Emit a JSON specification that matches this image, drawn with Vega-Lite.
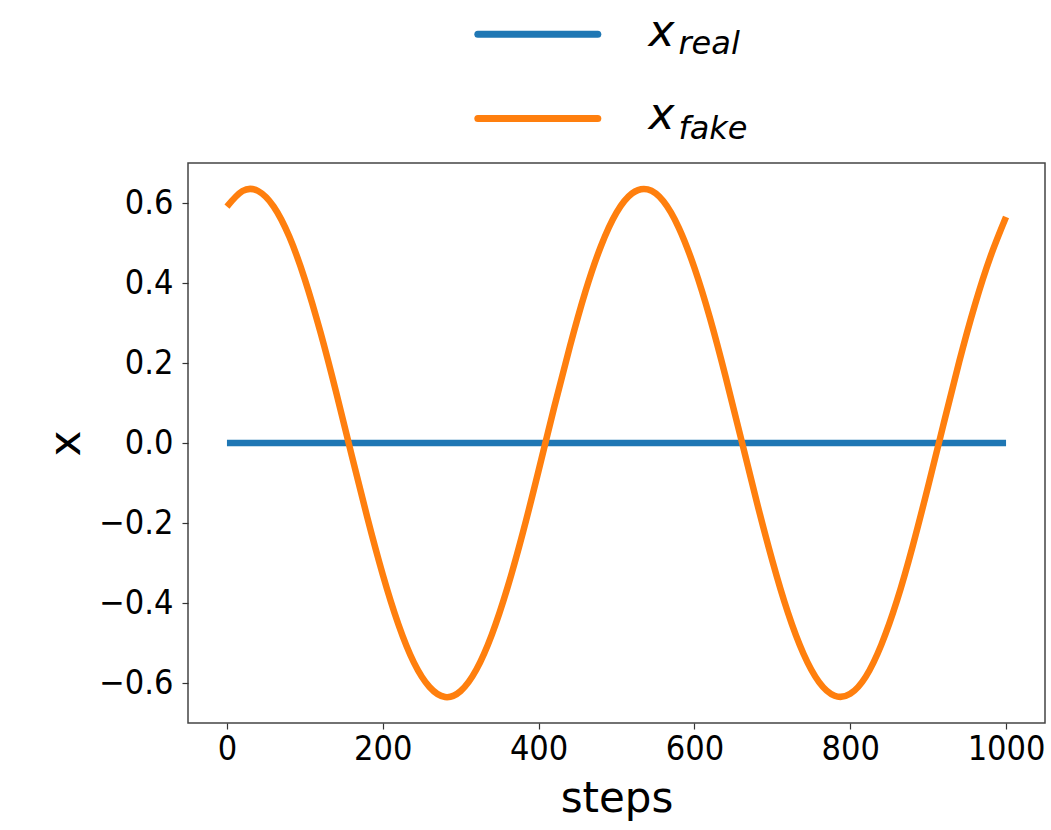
{
  "$schema": "https://vega.github.io/schema/vega-lite/v6.json",
  "width": 857,
  "height": 560,
  "autosize": "none",
  "padding": {"left": 188, "top": 163, "right": 6, "bottom": 107},
  "background": "white",
  "config": {
    "view": {"stroke": "#444444", "strokeWidth": 1.5},
    "axis": {
      "labelFont": "DejaVu Sans Condensed, Liberation Sans",
      "titleFont": "DejaVu Sans",
      "labelColor": "black",
      "titleColor": "black",
      "titleFontWeight": "normal",
      "grid": false,
      "domain": false,
      "tickColor": "#333333",
      "tickWidth": 1.2,
      "tickSize": 6
    }
  },
  "datasets": {
    "series": [
      {"step": 0, "value": 0.0, "series": "x_real"},
      {"step": 1000, "value": 0.0, "series": "x_real"},
      {"step": 0, "value": 0.591, "series": "x_fake"},
      {"step": 20, "value": 0.630, "series": "x_fake"},
      {"step": 40, "value": 0.630, "series": "x_fake"},
      {"step": 60, "value": 0.591, "series": "x_fake"},
      {"step": 80, "value": 0.516, "series": "x_fake"},
      {"step": 100, "value": 0.409, "series": "x_fake"},
      {"step": 120, "value": 0.277, "series": "x_fake"},
      {"step": 140, "value": 0.128, "series": "x_fake"},
      {"step": 160, "value": -0.030, "series": "x_fake"},
      {"step": 180, "value": -0.185, "series": "x_fake"},
      {"step": 200, "value": -0.329, "series": "x_fake"},
      {"step": 220, "value": -0.453, "series": "x_fake"},
      {"step": 240, "value": -0.549, "series": "x_fake"},
      {"step": 260, "value": -0.610, "series": "x_fake"},
      {"step": 280, "value": -0.635, "series": "x_fake"},
      {"step": 300, "value": -0.620, "series": "x_fake"},
      {"step": 320, "value": -0.567, "series": "x_fake"},
      {"step": 340, "value": -0.479, "series": "x_fake"},
      {"step": 360, "value": -0.362, "series": "x_fake"},
      {"step": 380, "value": -0.223, "series": "x_fake"},
      {"step": 400, "value": -0.069, "series": "x_fake"},
      {"step": 420, "value": 0.089, "series": "x_fake"},
      {"step": 440, "value": 0.240, "series": "x_fake"},
      {"step": 460, "value": 0.378, "series": "x_fake"},
      {"step": 480, "value": 0.492, "series": "x_fake"},
      {"step": 500, "value": 0.576, "series": "x_fake"},
      {"step": 520, "value": 0.624, "series": "x_fake"},
      {"step": 540, "value": 0.634, "series": "x_fake"},
      {"step": 560, "value": 0.605, "series": "x_fake"},
      {"step": 580, "value": 0.538, "series": "x_fake"},
      {"step": 600, "value": 0.438, "series": "x_fake"},
      {"step": 620, "value": 0.312, "series": "x_fake"},
      {"step": 640, "value": 0.166, "series": "x_fake"},
      {"step": 660, "value": 0.010, "series": "x_fake"},
      {"step": 680, "value": -0.147, "series": "x_fake"},
      {"step": 700, "value": -0.294, "series": "x_fake"},
      {"step": 720, "value": -0.424, "series": "x_fake"},
      {"step": 740, "value": -0.527, "series": "x_fake"},
      {"step": 760, "value": -0.598, "series": "x_fake"},
      {"step": 780, "value": -0.632, "series": "x_fake"},
      {"step": 800, "value": -0.627, "series": "x_fake"},
      {"step": 820, "value": -0.584, "series": "x_fake"},
      {"step": 840, "value": -0.504, "series": "x_fake"},
      {"step": 860, "value": -0.394, "series": "x_fake"},
      {"step": 880, "value": -0.259, "series": "x_fake"},
      {"step": 900, "value": -0.108, "series": "x_fake"},
      {"step": 920, "value": 0.049, "series": "x_fake"},
      {"step": 940, "value": 0.204, "series": "x_fake"},
      {"step": 960, "value": 0.345, "series": "x_fake"},
      {"step": 980, "value": 0.466, "series": "x_fake"},
      {"step": 1000, "value": 0.565, "series": "x_fake"}
    ],
    "legend": [
      {"series": "x_real", "main": "x", "sub": "real"},
      {"series": "x_fake", "main": "x", "sub": "fake"}
    ]
  },
  "layer": [
    {
      "data": {"name": "series"},
      "mark": {"type": "line", "strokeWidth": 6.5, "interpolate": "natural"},
      "encoding": {
        "x": {
          "field": "step",
          "type": "quantitative",
          "scale": {"domain": [-50, 1050], "nice": false, "zero": false},
          "axis": {
            "values": [0, 200, 400, 600, 800, 1000],
            "format": "d",
            "labelFontSize": 34,
            "labelPadding": 3,
            "title": "steps",
            "titleFontSize": 42,
            "titlePadding": 12
          }
        },
        "y": {
          "field": "value",
          "type": "quantitative",
          "scale": {"domain": [-0.7, 0.7], "nice": false, "zero": false},
          "axis": {
            "values": [-0.6, -0.4, -0.2, 0, 0.2, 0.4, 0.6],
            "format": ".1f",
            "labelFontSize": 34,
            "labelPadding": 9,
            "title": "x",
            "titleFontSize": 44,
            "titlePadding": 10
          }
        },
        "color": {
          "field": "series",
          "type": "nominal",
          "scale": {"domain": ["x_real", "x_fake"], "range": ["#1f77b4", "#ff7f0e"]},
          "legend": null
        },
        "detail": {"field": "series"}
      }
    },
    {
      "data": {"name": "legend"},
      "transform": [{"filter": "datum.series === 'x_real'"}],
      "layer": [
        {
          "mark": {"type": "rule", "strokeWidth": 7, "strokeCap": "round"},
          "encoding": {
            "x": {"datum": 322},
            "x2": {"datum": 476},
            "y": {"datum": 1.022},
            "color": {"field": "series", "type": "nominal"}
          }
        },
        {
          "mark": {"type": "text", "font": "DejaVu Sans", "fontStyle": "italic", "fontSize": 44, "align": "left", "baseline": "alphabetic", "color": "black"},
          "encoding": {"x": {"datum": 541}, "y": {"datum": 0.992}, "text": {"field": "main"}}
        },
        {
          "mark": {"type": "text", "font": "DejaVu Sans", "fontStyle": "italic", "fontSize": 32, "align": "left", "baseline": "alphabetic", "dx": 30, "color": "black"},
          "encoding": {"x": {"datum": 541}, "y": {"datum": 0.972}, "text": {"field": "sub"}}
        }
      ]
    },
    {
      "data": {"name": "legend"},
      "transform": [{"filter": "datum.series === 'x_fake'"}],
      "layer": [
        {
          "mark": {"type": "rule", "strokeWidth": 7, "strokeCap": "round"},
          "encoding": {
            "x": {"datum": 322},
            "x2": {"datum": 476},
            "y": {"datum": 0.811},
            "color": {"field": "series", "type": "nominal"}
          }
        },
        {
          "mark": {"type": "text", "font": "DejaVu Sans", "fontStyle": "italic", "fontSize": 44, "align": "left", "baseline": "alphabetic", "color": "black"},
          "encoding": {"x": {"datum": 541}, "y": {"datum": 0.784}, "text": {"field": "main"}}
        },
        {
          "mark": {"type": "text", "font": "DejaVu Sans", "fontStyle": "italic", "fontSize": 32, "align": "left", "baseline": "alphabetic", "dx": 30, "color": "black"},
          "encoding": {"x": {"datum": 541}, "y": {"datum": 0.761}, "text": {"field": "sub"}}
        }
      ]
    }
  ]
}
